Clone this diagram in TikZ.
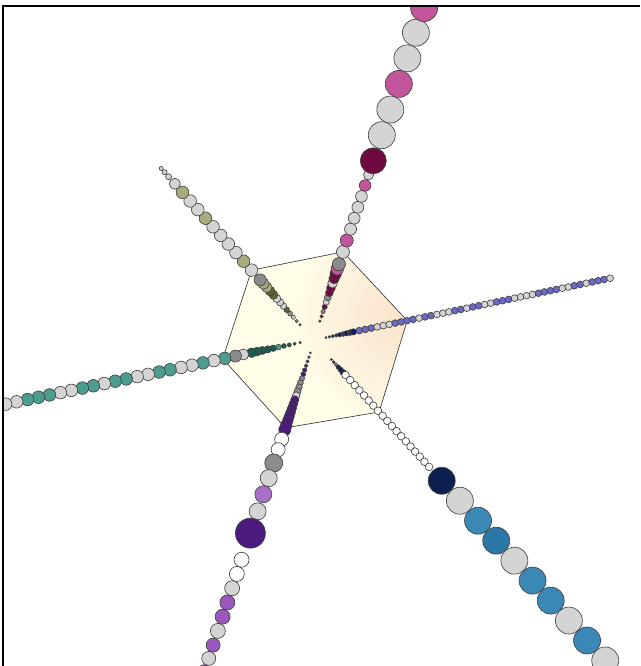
\documentclass[tikz,border=0pt]{standalone}
\definecolor{beadlight}{HTML}{D4D4D4}
\definecolor{beadgray}{HTML}{8C8C8C}
\definecolor{beadwhite}{HTML}{FFFFFF}
\definecolor{rpink}{HTML}{C2559C}
\definecolor{rmaroon}{HTML}{6E0A40}
\definecolor{olight}{HTML}{A9AB7D}
\definecolor{odark}{HTML}{5E6436}
\definecolor{vblue}{HTML}{6A6AC4}
\definecolor{vnavy}{HTML}{0E1A6B}
\definecolor{vgray}{HTML}{3A3A55}
\definecolor{tteal}{HTML}{4C9C90}
\definecolor{tdark}{HTML}{1F5A50}
\definecolor{pdark}{HTML}{4B1A7D}
\definecolor{plight}{HTML}{A86FC8}
\definecolor{pmid}{HTML}{9A58BD}
\definecolor{bnavy}{HTML}{0C1F4E}
\definecolor{bblue}{HTML}{3B87B5}
\definecolor{bblue2}{HTML}{2B78A8}
\definecolor{hexcream}{HTML}{FFFDE8}
\definecolor{hexpeach}{HTML}{FAE3CC}
\begin{document}
\begin{tikzpicture}[x=0.025cm, y=0.025cm,
    bead/.style={draw=black!75, line width=0.45pt},
    hexside/.style={draw=black!80, line width=0.45pt},
    frameline/.style={draw=black, line width=1.4pt}]
  \useasboundingbox (0,0) rectangle (640,666);
  % ray starts
  \coordinate (s1) at (319,342);
  \coordinate (s2) at (302,339);
  \coordinate (s3) at (324,328);
  \coordinate (s4) at (303,324);
  \coordinate (s5) at (311,315);
  \coordinate (s6) at (330,308);
  % hexagon corners sit on the rays
  \path (s1) ++(71.6:76)  coordinate (h1);
  \path (s2) ++(131.6:76) coordinate (h2);
  \path (s4) ++(191.8:82) coordinate (h4);
  \path (s5) ++(251.6:81) coordinate (h5);
  \path (s6) ++(312.3:73) coordinate (h6);
  \path (s3) ++(11.8:85)  coordinate (h3);
  \begin{scope}
    \clip (3,0) rectangle (640,660);
    \begin{scope}
      \clip (h1) -- (h2) -- (h4) -- (h5) -- (h6) -- (h3) -- cycle;
      \fill[hexcream] (200,200) rectangle (420,440);
      \shade[inner color=hexpeach, outer color=hexcream] (h3) ++(-8,4) circle (110);
    \end{scope}
    \draw[hexside] (h1) -- (h2) -- (h4) -- (h5) -- (h6) -- (h3) -- cycle;
    % up-right ray
    \foreach \c [count=\i from 0] in {rmaroon, rmaroon, beadgray, rmaroon, beadlight,
        beadgray, rmaroon, rmaroon, beadlight, rmaroon, rmaroon, rpink, beadgray}
      \filldraw[bead, fill=\c] (s1) ++(71.6:{3+5*\i}) circle ({1.2+0.45*\i});
    \foreach \d/\r/\c in {76/6.5/beadlight, 88/6.5/rpink, 100/6/beadlight,
        111.5/5.9/beadlight, 123/5.9/beadlight, 134.5/5.9/beadlight, 146/5.8/rpink,
        157/5/beadlight, 172/13/rmaroon, 199/13.5/beadlight, 226/13.5/beadlight,
        253/13.5/rpink, 280/13.5/beadlight, 307/13.5/beadlight, 333/13.5/rpink}
      \filldraw[bead, fill=\c] (s1) ++(71.6:\d) circle (\r);
    % up-left ray
    \foreach \c [count=\i from 0] in {odark, beadgray, beadlight, beadgray, odark,
        beadlight, beadlight, beadlight, odark, odark, olight, olight, beadgray}
      \filldraw[bead, fill=\c] (s2) ++(131.6:{3+5*\i}) circle ({1.2+0.4*\i});
    \foreach \d/\r/\c in {76/6.3/beadlight, 88/6.3/olight, 99.5/6.3/beadlight,
        111/6.3/beadlight, 122.5/6.3/beadlight, 134/6.3/beadlight, 145.5/6.3/olight,
        157/6.3/beadlight, 168.5/6.3/beadlight, 180/6.3/olight, 191.5/5.5/beadlight,
        201/3/beadlight, 207/2.5/beadlight, 212/2/beadlight}
      \filldraw[bead, fill=\c] (s2) ++(131.6:\d) circle (\r);
    % right ray
    \foreach \c [count=\i from 0] in {vgray, vgray, vnavy, vgray, vnavy, vgray,
        vnavy, vgray, vnavy}
      \filldraw[bead, fill=\c] (s3) ++(11.8:{2+3.5*\i}) circle ({1+0.27*\i});
    \foreach \c [count=\i] in {vblue, vblue, vblue, beadlight, beadlight, beadlight,
        vblue, vblue, vblue, vblue, beadlight, vblue, vblue, beadlight, beadlight,
        beadlight, vblue, vblue, beadlight, vblue, vblue, beadlight, beadlight,
        vblue, vblue, vblue, beadlight, beadlight, beadlight, beadlight, vblue,
        vblue, vblue, vblue, beadlight, beadlight, vblue, vblue, beadlight,
        vblue, vblue, vblue, beadlight}
      \filldraw[bead, fill=\c] (s3) ++(11.8:{30+6.1*\i}) circle (3.4);
    % left ray
    \foreach \c [count=\i from 0] in {tdark, tdark, tdark, tdark, tteal, tdark,
        tdark, tdark, tdark, tdark}
      \filldraw[bead, fill=\c] (s4) ++(191.8:{3+5.5*\i}) circle ({1.2+0.4*\i});
    \foreach \d/\r/\c in {61/5.5/beadlight, 69/6/beadgray, 80/6.2/tteal}
      \filldraw[bead, fill=\c] (s4) ++(191.8:\d) circle (\r);
    \foreach \c [count=\i] in {beadlight, tteal, beadlight, beadlight, tteal, tteal,
        beadlight, beadlight, tteal, tteal, beadlight, tteal, tteal, beadlight,
        beadlight, tteal, tteal, tteal, beadlight, beadlight, tteal}
      \filldraw[bead, fill=\c] (s4) ++(191.8:{79.8+11.2*\i}) circle (6.3);
    % down-left ray
    \foreach \c [count=\i from 0] in {pdark, pdark, pdark, pdark, pdark, pdark,
        beadgray, beadgray, beadgray, beadgray, beadlight, pdark, pdark, pdark,
        pdark, pdark, pdark, pdark, pdark}
      \filldraw[bead, fill=\c] (s5) ++(251.6:{2+4.5*\i}) circle ({1+0.28*\i});
    \foreach \d/\r/\c in {93/7/beadwhite, 104/7/beadwhite, 118/9/beadgray,
        134/8.5/beadlight, 151/8.5/plight, 169/8.5/beadlight, 192/15/pdark,
        220/7.5/beadwhite, 235/7.5/beadwhite, 250/7.5/beadlight, 265/7.5/pmid,
        280/7.5/pmid, 295/7.5/beadlight, 310/7/pmid, 324/7/beadlight, 338/7/pmid}
      \filldraw[bead, fill=\c] (s5) ++(251.6:\d) circle (\r);
    % down-right ray
    \foreach \c [count=\i from 0] in {bnavy, bnavy, beadgray, bnavy, bnavy, bnavy}
      \filldraw[bead, fill=\c] (s6) ++(312.3:{2+3.5*\i}) circle ({1+0.4*\i});
    \foreach \i in {0,...,18}
      \filldraw[bead, fill=beadwhite] (s6) ++(312.3:{23+6.9*\i}) circle (3.8);
    \foreach \c [count=\i] in {bnavy, beadlight, bblue, bblue2, beadlight, bblue,
        bblue, beadlight, bblue, beadlight, bblue}
      \filldraw[bead, fill=\c] (s6) ++(312.3:{139+27*\i}) circle (13.5);
  \end{scope}
  % frame
  \draw[frameline] (3,0) -- (3,660) -- (640,660);
\end{tikzpicture}
\end{document}
